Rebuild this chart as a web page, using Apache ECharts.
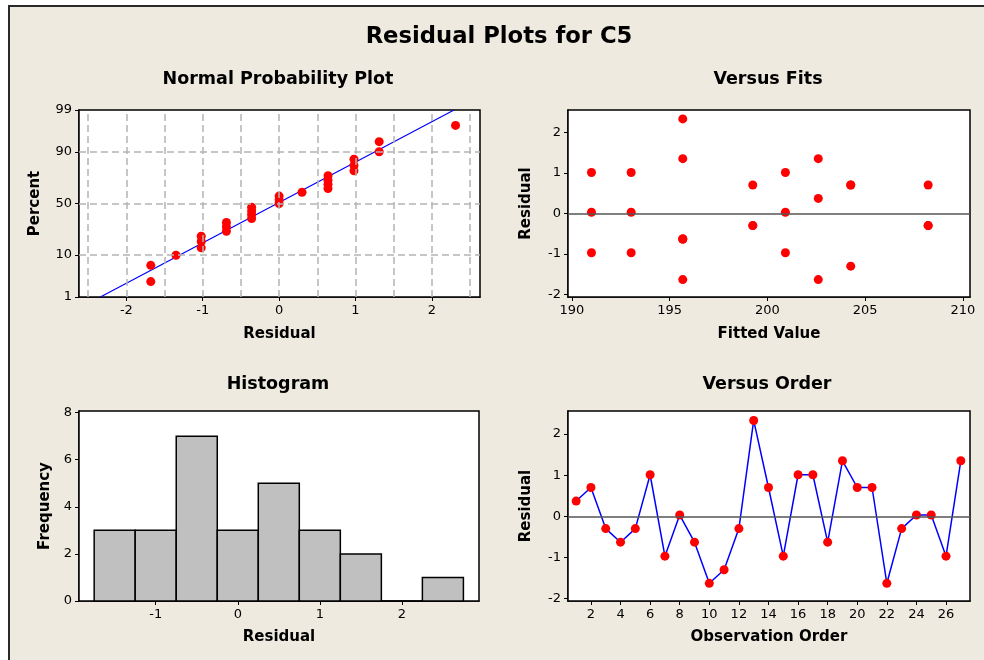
<!DOCTYPE html>
<html>
<head>
<meta charset="utf-8">
<style>
html,body{margin:0;padding:0;background:#fff;}
#chart{width:984px;height:660px;}
</style>
<script src="https://cdn.jsdelivr.net/npm/echarts@6/dist/echarts.min.js"></script>
</head>
<body>
<div id="chart"></div>
<script>
// ---------------- data ----------------
const chartTitle = 'Residual Plots for C5';
const panelTitles = ['Normal Probability Plot', 'Versus Fits', 'Histogram', 'Versus Order'];

// observation order 1..27 and residuals (Versus Order panel)
const observationOrder = [1,2,3,4,5,6,7,8,9,10,11,12,13,14,15,16,17,18,19,20,21,22,23,24,25,26,27];
const residuals = [0.37, 0.70, -0.30, -0.63, -0.30, 1.01, -0.97, 0.03, -0.63, -1.63, -1.30, -0.30, 2.33,
                   0.70, -0.97, 1.01, 1.01, -0.63, 1.35, 0.70, 0.70, -1.63, -0.30, 0.03, 0.03, -0.97, 1.35];
// fitted values for the same observations (Versus Fits panel)
const fittedValues = [202.6, 199.25, 199.25, 195.67, 199.25, 191.0, 191.0, 191.0, 195.67, 195.67, 204.26, 208.22, 195.67,
                      204.26, 193.03, 193.03, 200.92, 195.67, 195.67, 204.26, 208.22, 202.6, 208.22, 193.03, 200.92, 200.92, 202.6];

// normal probability plot: ordered residuals and plotted percents
const probResidual = [-1.68, -1.68, -1.35, -1.02, -1.02, -1.02, -0.69, -0.69, -0.69, -0.36, -0.36, -0.36, -0.36,
                      0.00, 0.00, 0.00, 0.30, 0.64, 0.64, 0.64, 0.64, 0.98, 0.98, 0.98, 1.31, 1.31, 2.31];
const probPercent = [2.6, 6.2, 9.9, 13.5, 17.2, 20.8, 24.5, 28.1, 31.8, 35.4, 39.1, 42.7, 46.4,
                     50.0, 53.6, 57.3, 61.0, 64.6, 68.3, 71.9, 75.6, 79.2, 82.8, 86.5, 90.1, 93.8, 97.4];
const fitLineResidual = [-2.34, 2.29];
const fitLinePercent = [1, 99];
const percentTicks = [1, 10, 50, 90, 99];
const percentGrid = [10, 50, 90];
const residualGrid = [-2.5, -2, -1.5, -1, -0.5, 0, 0.5, 1, 1.5, 2, 2.5];

// histogram
const binEdges = [-1.75, -1.25, -0.75, -0.25, 0.25, 0.75, 1.25, 1.75, 2.25, 2.75];
const binCounts = [3, 3, 7, 3, 5, 3, 2, 0, 1];

// tick labels
const probXTicks = [-2, -1, 0, 1, 2];
const fitsXTicks = [190, 195, 200, 205, 210];
const residTicks = [-2, -1, 0, 1, 2];
const histXTicks = [-1, 0, 1, 2];
const histYTicks = [0, 2, 4, 6, 8];
const orderXTicks = [2, 4, 6, 8, 10, 12, 14, 16, 18, 20, 22, 24, 26];

// ---------------- probability scale helper ----------------
function normInv(p) {
  const a = [-3.969683028665376e+01, 2.209460984245205e+02, -2.759285104469687e+02, 1.383577518672690e+02, -3.066479806614716e+01, 2.506628277459239e+00];
  const b = [-5.447609879822406e+01, 1.615858368580409e+02, -1.556989798598866e+02, 6.680131188771972e+01, -1.328068155288572e+01];
  const c = [-7.784894002430293e-03, -3.223964580411365e-01, -2.400758277161838e+00, -2.549732539343734e+00, 4.374664141464968e+00, 2.938163982698783e+00];
  const d = [7.784695709041462e-03, 3.224671290700398e-01, 2.445134137142996e+00, 3.754408661907416e+00];
  const pl = 0.02425, ph = 1 - pl;
  let q, r;
  if (p < pl) { q = Math.sqrt(-2 * Math.log(p)); return (((((c[0]*q+c[1])*q+c[2])*q+c[3])*q+c[4])*q+c[5]) / ((((d[0]*q+d[1])*q+d[2])*q+d[3])*q+1); }
  if (p <= ph) { q = p - 0.5; r = q*q; return (((((a[0]*r+a[1])*r+a[2])*r+a[3])*r+a[4])*r+a[5])*q / (((((b[0]*r+b[1])*r+b[2])*r+b[3])*r+b[4])*r+1); }
  q = Math.sqrt(-2 * Math.log(1 - p)); return -(((((c[0]*q+c[1])*q+c[2])*q+c[3])*q+c[4])*q+c[5]) / ((((d[0]*q+d[1])*q+d[2])*q+d[3])*q+1);
}
const pz = pct => normInv(pct / 100);

// ---------------- styling ----------------
const FONT = '"DejaVu Sans", Verdana, sans-serif';
const RED = '#FF0000', BLUE = '#0000FF';

function axisBase(extra) {
  return Object.assign({
    type: 'value',
    axisLine: { show: true, onZero: false, lineStyle: { color: '#000', width: 1.5 } },
    axisTick: { show: true, length: 4, lineStyle: { color: '#000', width: 1 } },
    axisLabel: { color: '#000', fontFamily: FONT, fontSize: 13, margin: 7 },
    splitLine: { show: false },
    nameLocation: 'middle',
    nameTextStyle: { color: '#000', fontFamily: FONT, fontSize: 15, fontWeight: 'bold' }
  }, extra);
}
function withTicks(ax, ticks, fmt) {
  ax.axisTick.customValues = ticks;
  ax.axisLabel.customValues = ticks;
  if (fmt) ax.axisLabel.formatter = fmt;
  return ax;
}

const percentZ = percentTicks.map(pz);
const zToLabel = v => {
  for (let i = 0; i < percentZ.length; i++) if (Math.abs(percentZ[i] - v) < 1e-6) return String(percentTicks[i]);
  return '';
};

const grids = [
  { left: 79, top: 110, width: 401, height: 187 },
  { left: 568, top: 110, width: 402, height: 187 },
  { left: 79, top: 411, width: 400, height: 190 },
  { left: 568, top: 411, width: 402, height: 190 }
].map(g => Object.assign({ show: true, backgroundColor: '#fff', borderColor: '#000', borderWidth: 1.5, z: 1 }, g));

const xAxes = [
  withTicks(axisBase({ gridIndex: 0, min: -2.62, max: 2.63, name: 'Residual', nameGap: 30 }), probXTicks),
  withTicks(axisBase({ gridIndex: 1, min: 189.8, max: 210.36, name: 'Fitted Value', nameGap: 30 }), fitsXTicks),
  withTicks(axisBase({ gridIndex: 2, min: -1.935, max: 2.94, name: 'Residual', nameGap: 29 }), histXTicks),
  withTicks(axisBase({ gridIndex: 3, min: 0.45, max: 27.62, name: 'Observation Order', nameGap: 29 }), orderXTicks)
];
const yAxes = [
  withTicks(axisBase({ gridIndex: 0, min: pz(1), max: pz(99), name: 'Percent', nameGap: 36 }), percentZ, zToLabel),
  withTicks(axisBase({ gridIndex: 1, min: -2.06, max: 2.55, name: 'Residual', nameGap: 34 }), residTicks),
  withTicks(axisBase({ gridIndex: 2, min: 0, max: 8.07, name: 'Frequency', nameGap: 26 }), histYTicks),
  withTicks(axisBase({ gridIndex: 3, min: -2.06, max: 2.56, name: 'Residual', nameGap: 34 }), residTicks)
];

const probPoints = probResidual.map((r, i) => [r, pz(probPercent[i])]);
const fitLine = fitLineResidual.map((r, i) => [r, pz(fitLinePercent[i])]);
const fitsPoints = fittedValues.map((f, i) => [f, residuals[i]]);
const orderPoints = observationOrder.map((o, i) => [o, residuals[i]]);
const histData = binCounts.map((c, i) => [binEdges[i], binEdges[i + 1], c]);

const guideStyle = { color: '#b4b4b4', type: [7, 4], width: 1.5 };
const zeroStyle = { color: '#555', type: 'solid', width: 1.5 };
const dotStyle = { color: RED, opacity: 1, borderWidth: 0 };

const series = [
  // dashed guide lines (probability plot)
  {
    type: 'scatter', xAxisIndex: 0, yAxisIndex: 0, data: probPoints, symbolSize: 0, silent: true, z: 2,
    markLine: {
      silent: true, symbol: ['none', 'none'], label: { show: false }, lineStyle: guideStyle, animation: false,
      data: residualGrid.map(v => ({ xAxis: v })).concat(percentGrid.map(p => ({ yAxis: pz(p) })))
    }
  },
  { type: 'line', xAxisIndex: 0, yAxisIndex: 0, data: fitLine, showSymbol: false, symbol: 'none',
    lineStyle: { color: BLUE, width: 1.2 }, z: 3, silent: true },
  { type: 'scatter', xAxisIndex: 0, yAxisIndex: 0, data: probPoints, symbol: 'circle', symbolSize: 9,
    itemStyle: dotStyle, z: 4 },
  // versus fits
  {
    type: 'scatter', xAxisIndex: 1, yAxisIndex: 1, data: fitsPoints, symbolSize: 0, silent: true, z: 2,
    markLine: { silent: true, symbol: ['none', 'none'], label: { show: false }, lineStyle: zeroStyle, animation: false, data: [{ yAxis: 0 }] }
  },
  { type: 'scatter', xAxisIndex: 1, yAxisIndex: 1, data: fitsPoints, symbol: 'circle', symbolSize: 9,
    itemStyle: dotStyle, z: 4 },
  // histogram
  {
    type: 'custom', xAxisIndex: 2, yAxisIndex: 2, data: histData, encode: { x: [0, 1], y: 2 }, z: 3,
    renderItem: function (params, api) {
      const p0 = api.coord([api.value(0), api.value(2)]);
      const p1 = api.coord([api.value(1), 0]);
      return { type: 'rect', shape: { x: p0[0], y: p0[1], width: p1[0] - p0[0], height: p1[1] - p0[1] },
               style: { fill: '#C0C0C0', stroke: '#000', lineWidth: 1.5 } };
    }
  },
  // versus order
  {
    type: 'scatter', xAxisIndex: 3, yAxisIndex: 3, data: orderPoints, symbolSize: 0, silent: true, z: 2,
    markLine: { silent: true, symbol: ['none', 'none'], label: { show: false }, lineStyle: zeroStyle, animation: false, data: [{ yAxis: 0 }] }
  },
  { type: 'line', xAxisIndex: 3, yAxisIndex: 3, data: orderPoints, symbol: 'circle', symbolSize: 9, showSymbol: true,
    lineStyle: { color: BLUE, width: 1.5 }, itemStyle: dotStyle, z: 4 }
];

const textEl = (txt, x, y, size) => ({
  type: 'text', x: x, y: y, z: 10, silent: true,
  style: { text: txt, font: 'bold ' + size + 'px ' + FONT, fill: '#000', align: 'center', verticalAlign: 'middle' }
});

const option = {
  backgroundColor: '#ffffff',
  animation: false,
  graphic: [
    { type: 'rect', z: -100, silent: true, shape: { x: 9, y: 6, width: 1000, height: 700 },
      style: { fill: '#EEEADF', stroke: '#2a2a2a', lineWidth: 2 } },
    textEl(chartTitle, 499, 37, 22.7),
    textEl(panelTitles[0], 278, 79, 17.5),
    textEl(panelTitles[1], 768, 79, 17.5),
    textEl(panelTitles[2], 278, 384, 17.5),
    textEl(panelTitles[3], 767, 384, 17.5)
  ],
  grid: grids,
  xAxis: xAxes,
  yAxis: yAxes,
  series: series
};

const chart = echarts.init(document.getElementById('chart'), null, { renderer: 'canvas' });
chart.setOption(option);
</script>
</body>
</html>
